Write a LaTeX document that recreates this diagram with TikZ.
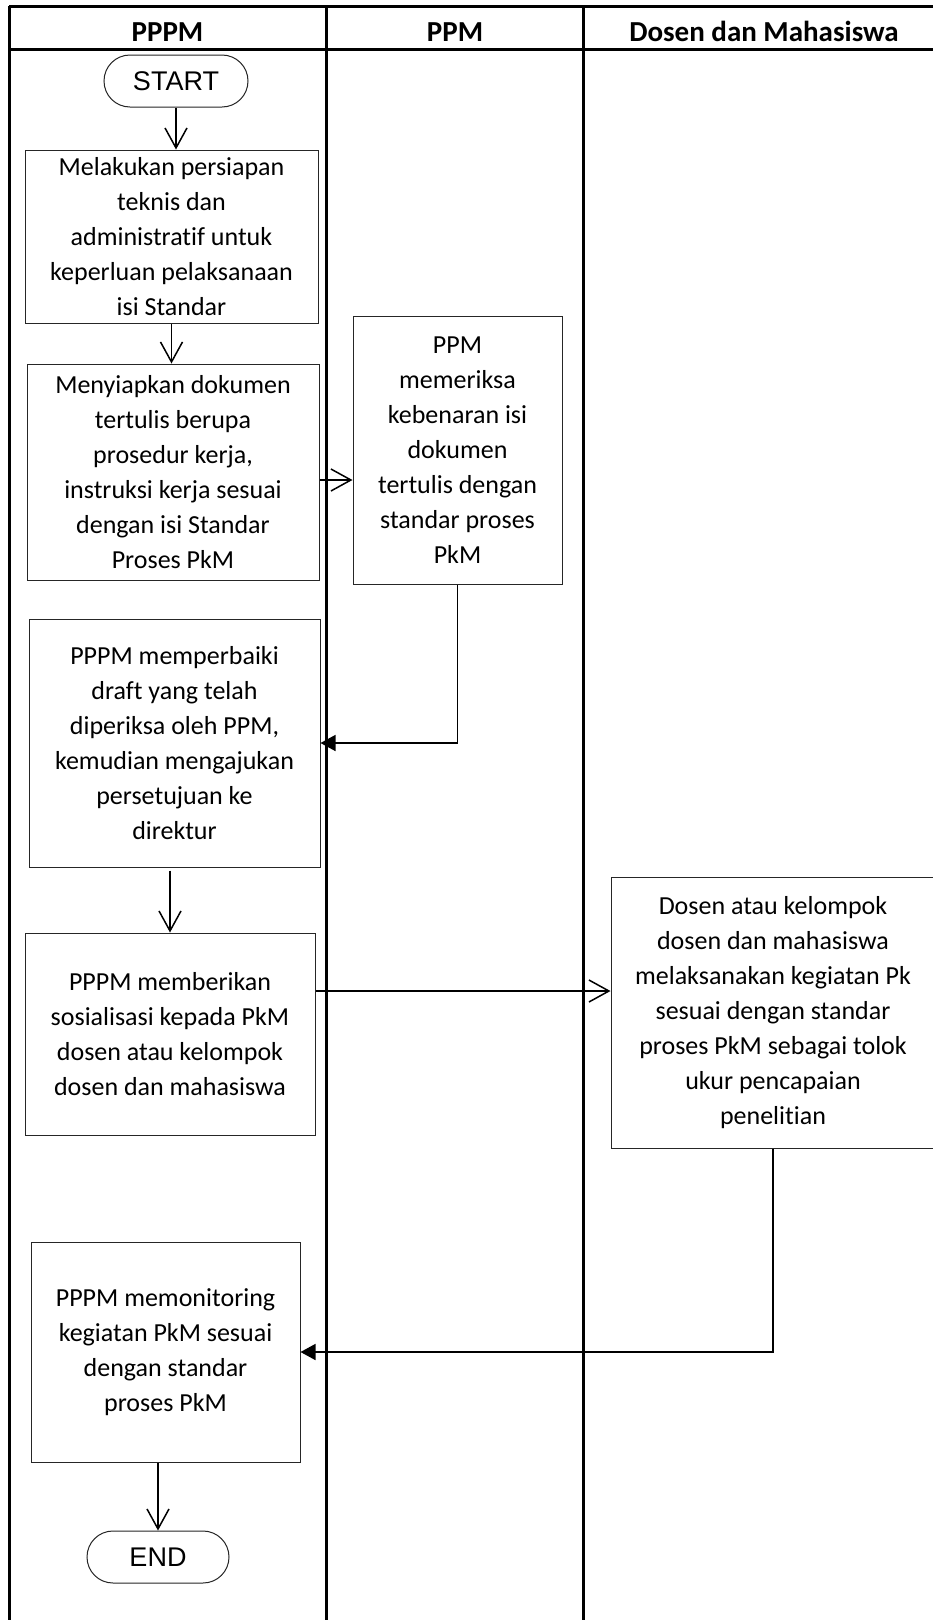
\documentclass[tikz,border=0pt]{standalone}
\usepackage{fontspec}
\setmainfont{Carlito}[RawFeature=-liga]
\newfontfamily\arialf{Liberation Sans}
\usetikzlibrary{arrows.meta}
\begin{document}
\begin{tikzpicture}[x=1pt,y=-1pt,
  lane/.style={line width=3pt},
  box/.style={draw=black!85, line width=1pt, rectangle, align=center,
    font=\fontsize{26}{35}\selectfont, inner sep=0pt},
  term/.style={draw=black!85, line width=1pt, rectangle, rounded corners=26pt,
    font=\arialf\fontsize{27}{30}\selectfont, inner sep=0pt},
  hdr/.style={font=\bfseries\fontsize{29}{34}\selectfont, anchor=base},
  openarr/.style={draw, line width=1.5pt, -{Straight Barb[length=20pt,width=22pt]}},
  fillarr/.style={draw, line width=1.5pt, -{Triangle[length=15pt,width=16pt]}}]
\useasboundingbox (0,0) rectangle (933,1620);
\clip (0,0) rectangle (933,1620);
\fill[white] (0,0) rectangle (933,1620);

% swimlanes
\draw[lane] (9,6) -- (960,6);
\draw[lane] (9,49) -- (960,49);
\draw[lane] (9,6) -- (9,1640);
\draw[lane] (326,6) -- (326,1640);
\draw[lane] (583.5,6) -- (583.5,1640);
\node[hdr] (h1) at (167.5,41) {PPPM};
\node[hdr] (h2) at (455,41) {PPM};
\node[hdr] (h3) at (764,41) {Dosen dan Mahasiswa};

% nodes
\node[term, minimum width=144pt, minimum height=52pt] (start) at (176,81) {START};
\node[box, minimum width=293pt, minimum height=173pt] (b1) at (171.5,236.5)
  {Melakukan persiapan\\teknis dan\\administratif untuk\\keperluan pelaksanaan\\isi Standar};
\node[box, minimum width=292pt, minimum height=216pt] (b2) at (173,472)
  {Menyiapkan dokumen\\tertulis berupa\\prosedur kerja,\\instruksi kerja sesuai\\dengan isi Standar\\Proses PkM};
\node[box, minimum width=209pt, minimum height=268pt] (b3) at (457.5,450)
  {PPM\\memeriksa\\kebenaran isi\\dokumen\\tertulis dengan\\standar proses\\PkM};
\node[box, minimum width=291pt, minimum height=248pt] (b4) at (174.5,743)
  {PPPM memperbaiki\\draft yang telah\\diperiksa oleh PPM,\\kemudian mengajukan\\persetujuan ke\\direktur};
\node[box, minimum width=290pt, minimum height=202pt] (b5) at (170,1034)
  {PPPM memberikan\\sosialisasi kepada PkM\\dosen atau kelompok\\dosen dan mahasiswa};
\node[box, minimum width=324pt, minimum height=271pt] (b6) at (773,1012.5)
  {Dosen atau kelompok\\dosen dan mahasiswa\\melaksanakan kegiatan Pk\\sesuai dengan standar\\proses PkM sebagai tolok\\ukur pencapaian\\penelitian};
\node[box, minimum width=269pt, minimum height=220pt] (b7) at (165.5,1352)
  {PPPM memonitoring\\kegiatan PkM sesuai\\dengan standar\\proses PkM};
\node[term, minimum width=142pt, minimum height=52pt] (end) at (158,1557) {END};

\coordinate (m23) at (0,480);
\coordinate (m56) at (0,991);

% connectors
\draw[openarr] (start.south) -- (start.south |- b1.north);
\draw[openarr] (b1.south) -- (b1.south |- b2.north);
\draw[openarr] (b2.east |- m23) -- (b3.west |- m23);
\draw[fillarr] (b3.south) |- (b4.east);
\draw[openarr] ([yshift=-3pt]b5.north |- b4.south) -- (b5.north);
\draw[openarr] (b5.east |- m56) -- (b6.west |- m56);
\draw[fillarr] (b6.south) |- (b7.east);
\draw[openarr] (end.north |- b7.south) -- (end.north);
\end{tikzpicture}
\end{document}
